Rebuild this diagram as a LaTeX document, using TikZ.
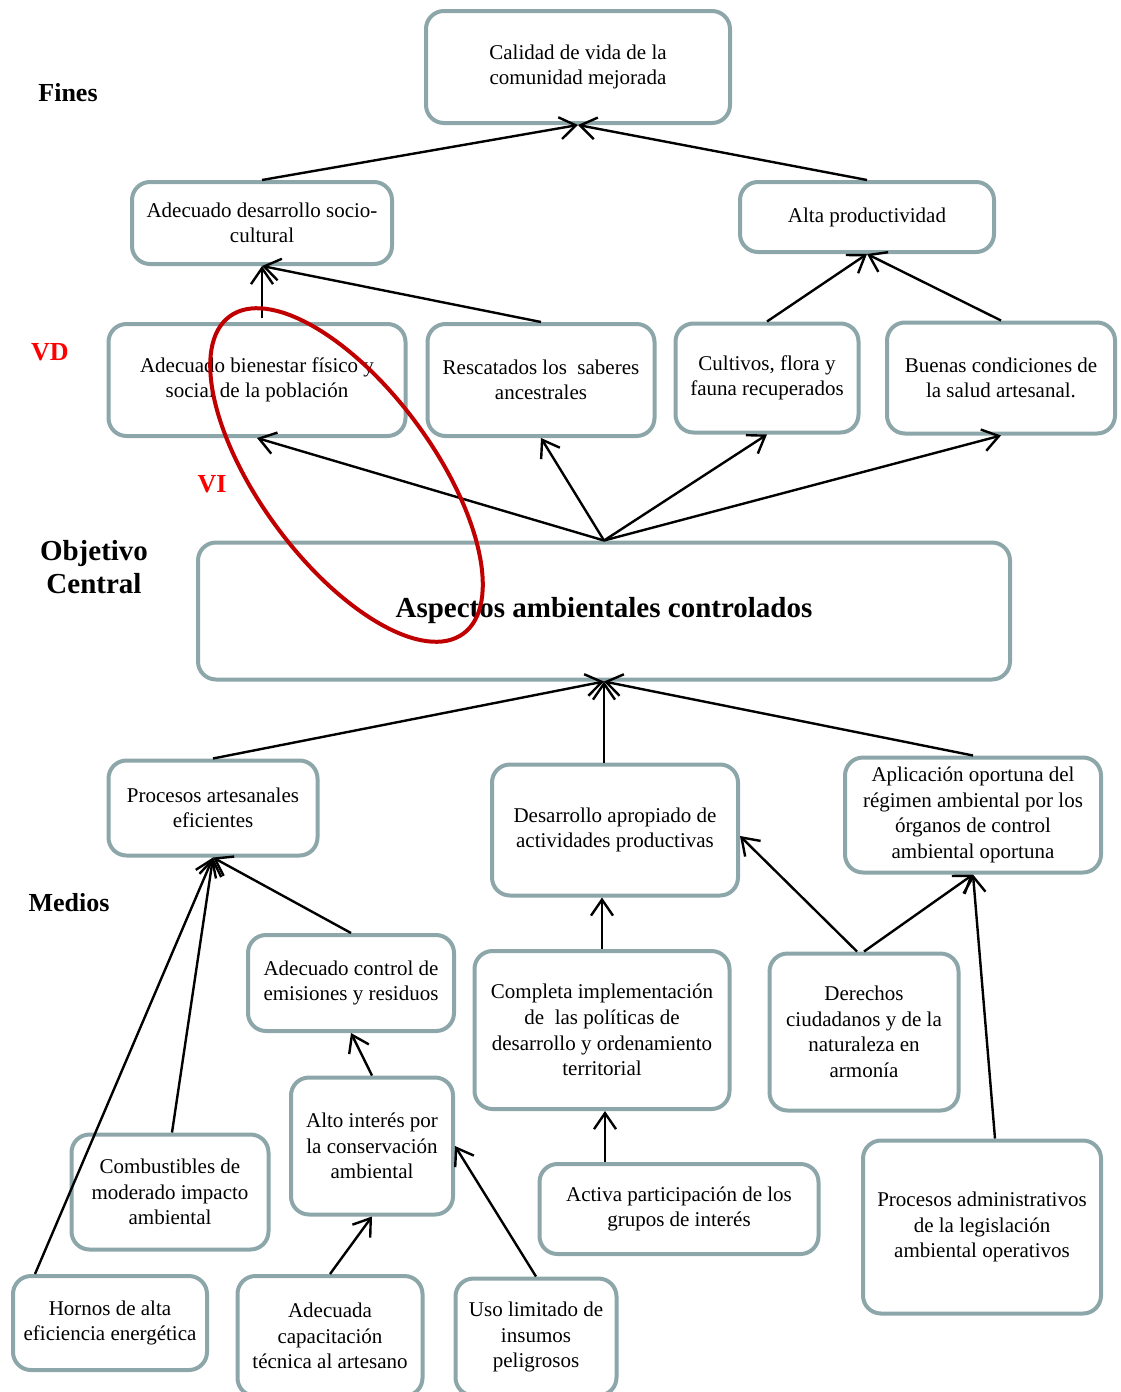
\documentclass[tikz,border=0pt]{standalone}
\usepackage{fontspec}
\setmainfont{Liberation Serif}
\usetikzlibrary{arrows.meta, calc}
\definecolor{boxgray}{HTML}{8CA6A9}
\definecolor{ovalred}{HTML}{C00000}

\begin{document}
\begin{tikzpicture}[x=0.5pt, y=-0.5pt,
    >={Straight Barb[length=8pt, width=11pt]},
    box/.style={draw=boxgray, line width=2pt, rounded corners=9pt, align=center,
        inner sep=2pt, font=\fontsize{10.5}{12.8}\selectfont},
    link/.style={->, line width=1.2pt},
    side/.style={font=\fontsize{13}{16.5}\selectfont\bfseries, align=center}]

    \useasboundingbox (0,0) rectangle (1120,1392);

    % --- 1. Side labels ---
    \node[side] (fines) at (68,93) {Fines};
    \node[side, text=red] (vd) at (50,352) {VD};
    \node[side, text=red] (vi) at (212,484) {VI};
    \node[side, font=\fontsize{14.5}{16.5}\selectfont\bfseries] (objetivo) at (94,567) {Objetivo\\Central};
    \node[side] (medios) at (69,903) {Medios};

    % --- 2. Fines (top tree) ---
    \node[box, minimum width=152pt, minimum height=56pt] (calidad) at (578,67) {Calidad de vida de la\\comunidad mejorada};
    \node[box, minimum width=130pt, minimum height=41pt] (socio) at (262,223) {Adecuado desarrollo socio-\\cultural};
    \node[box, minimum width=127pt, minimum height=35pt] (alta) at (867,217) {Alta productividad};

    % Efectos directos
    \node[box, minimum width=148.5pt, minimum height=56pt] (bienestar) at (257,380) {Adecuado bienestar físico y\\social de la población};
    \node[box, minimum width=113.5pt, minimum height=56pt] (rescatados) at (541,380) {Rescatados los\ \ saberes\\ancestrales};
    \node[box, minimum width=91.5pt, minimum height=54.5pt] (cultivos) at (767,378) {Cultivos, flora y\\fauna recuperados};
    \node[box, minimum width=114pt, minimum height=55.5pt] (buenas) at (1001,378) {Buenas condiciones de\\la salud artesanal.};

    % --- 3. Objetivo central ---
    \node[box, minimum width=406pt, minimum height=68.5pt, font=\fontsize{14.5}{17}\selectfont\bfseries] (aspectos) at (604,611) {Aspectos ambientales controlados};

    % --- 4. Medios (bottom tree) ---
    \node[box, minimum width=104.5pt, minimum height=47.5pt] (procart) at (213,808) {Procesos artesanales\\eficientes};
    \node[box, minimum width=123pt, minimum height=65.5pt] (desarrollo) at (615,830) {Desarrollo apropiado de\\actividades productivas};
    \node[box, minimum width=128pt, minimum height=57.5pt] (aplicacion) at (973,815) {Aplicación oportuna del\\régimen ambiental por los\\órganos de control\\ambiental oportuna};

    \node[box, minimum width=103pt, minimum height=48pt] (control) at (351,983) {Adecuado control de\\emisiones y residuos};
    \node[box, minimum width=127.5pt, minimum height=79pt] (completa) at (602,1030) {Completa implementación\\de\ \ las políticas de\\desarrollo y ordenamiento\\territorial};
    \node[box, minimum width=94.5pt, minimum height=78.5pt] (derechos) at (864,1032) {Derechos\\ciudadanos y de la\\naturaleza en\\armonía};

    \node[box, minimum width=81pt, minimum height=68.5pt] (alto) at (372,1146) {Alto interés por\\la conservación\\ambiental};
    \node[box, minimum width=98.5pt, minimum height=57.5pt] (combustibles) at (170,1192) {Combustibles de\\moderado impacto\\ambiental};
    \node[box, minimum width=139.5pt, minimum height=45pt] (activa) at (679,1209) {Activa participación de los\\grupos de interés};
    \node[box, minimum width=119pt, minimum height=86.5pt] (procadmin) at (982,1227) {Procesos administrativos\\de la legislación\\ambiental operativos};

    \node[box, minimum width=97pt, minimum height=47pt] (hornos) at (110,1323) {Hornos de alta\\eficiencia energética};
    \node[box, minimum width=92.5pt, minimum height=60pt] (capacitacion) at (330,1336) {Adecuada\\capacitación\\técnica al artesano};
    \node[box, minimum width=80.5pt, minimum height=58.5pt] (uso) at (536,1337) {Uso limitado de\\insumos\\peligrosos};

    % --- 5. Connectors: fines ---
    \draw[link] (socio.north) -- (calidad.south);
    \draw[link] (alta.north) -- (calidad.south);
    \draw[link] ($(socio.south |- bienestar.north)+(0,-4)$) -- (socio.south);
    \draw[link] (rescatados.north) -- (socio.south);
    \draw[link] (cultivos.north) -- (alta.south);
    \draw[link] (buenas.north) -- (alta.south);
    \foreach \n in {bienestar, rescatados, cultivos, buenas}
        \draw[link] (aspectos.north) -- (\n.south);

    % --- 6. Connectors: medios ---
    \draw[link] (procart.north) -- (aspectos.south);
    \draw[link] (aspectos.south |- desarrollo.north) -- (aspectos.south);
    \draw[link] (aplicacion.north) -- (aspectos.south);
    \draw[link] (completa.north) -- (completa.north |- desarrollo.south);
    \draw[link] ([xshift=-3.5pt]derechos.north) -- ([yshift=-3pt]desarrollo.east);
    \draw[link] (derechos.north) -- (aplicacion.south);
    \draw[link] ([xshift=6.5pt]procadmin.north) -- (aplicacion.south);
    \draw[link] ([xshift=1.5pt]completa.south |- activa.north) -- ([xshift=1.5pt]completa.south);
    \draw[link] (control.north) -- (procart.south);
    \draw[link] ([xshift=1pt]combustibles.north) -- (procart.south);
    \draw[link] ($(hornos.north west)+(24,0)$) -- (procart.south);
    \draw[link] (alto.north) -- (control.south);
    \draw[link] (capacitacion.north) -- (alto.south);
    \draw[link] (uso.north) -- (alto.east);

    % --- 7. Red oval over VI ---
    \draw[ovalred, line width=2pt, rotate around={-53.6:(346.5,475)}]
        (346.5,475) ellipse (98.5pt and 43.5pt);

\end{tikzpicture}
\end{document}
